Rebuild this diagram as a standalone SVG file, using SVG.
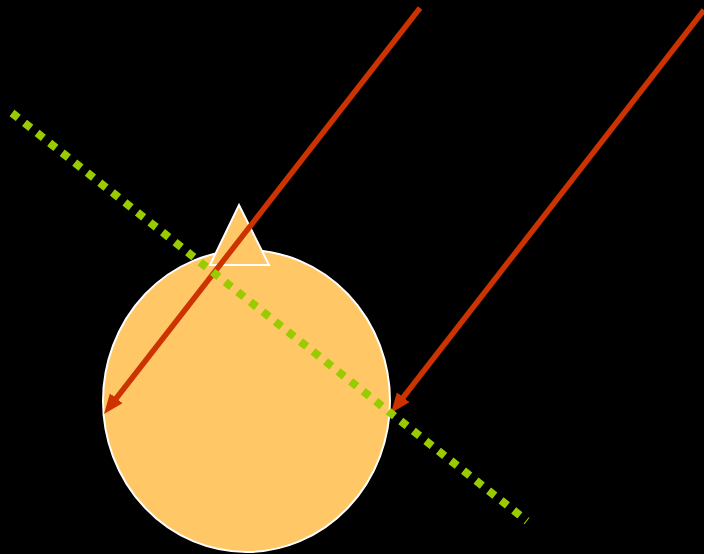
<svg xmlns="http://www.w3.org/2000/svg" width="704" height="554" viewBox="0 0 704 554">
<style>
.red{stroke:#CC3300;stroke-width:5.5;fill:none}
.grn{stroke:#99CC00;stroke-width:8;stroke-dasharray:8 8;fill:none}
.shape{fill:#FFC766;stroke:#FFFFFF;stroke-width:2}
</style>
<defs>
<marker id="ah" markerWidth="22" markerHeight="18" refX="5" refY="8" orient="auto" markerUnits="userSpaceOnUse">
<path d="M0,0 L20,8 L0,16 Z" fill="#CC3300"/>
</marker>
</defs>
<rect width="704" height="554" fill="#000000"/>
<g id="body">
<ellipse class="shape" cx="246.5" cy="401" rx="143.5" ry="151"/>
</g>
<g id="nose">
<polygon class="shape" points="239,205 269,265 210,265"/>
</g>
<g id="connectors">
<line class="red" x1="420" y1="8" x2="113.2" y2="402.2" marker-end="url(#ah)"/>
<line class="red" x1="704" y1="10" x2="400.2" y2="401.2" marker-end="url(#ah)"/>
<line class="grn" x1="12" y1="113" x2="527" y2="521"/>
</g>
</svg>
